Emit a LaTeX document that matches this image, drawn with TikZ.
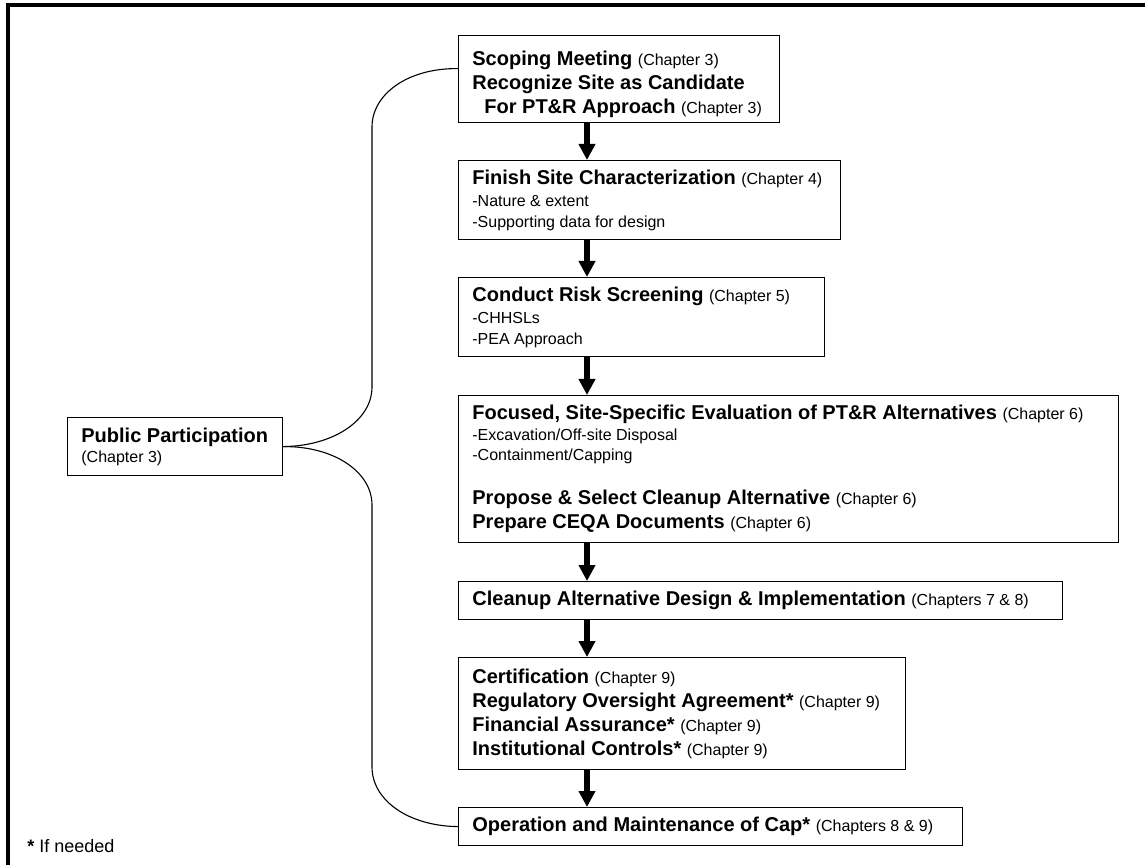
\documentclass[tikz,border=0pt]{standalone}
\usepackage{fontspec}
\setmainfont{Liberation Sans}
\usetikzlibrary{arrows.meta}

\newcommand{\chp}[1]{{\fontsize{8}{12}\selectfont\mdseries(#1)}}
\newcommand{\itm}[1]{{\fontsize{8}{12}\selectfont\mdseries#1}}

\tikzset{
  stage/.style 2 args={draw,line width=0.6pt,anchor=north west,minimum width=#1,minimum height=#2,inner sep=0pt},
  stagetext/.style={anchor=west,align=left,inner sep=0pt,font=\fontsize{10}{12}\selectfont\bfseries},
  flow/.style={line width=3pt,-{Triangle[width=8pt,length=8pt]}},
  link/.style={line width=0.55pt},
}

\begin{document}
\begin{tikzpicture}[x=0.5pt,y=-0.5pt]
                                    \useasboundingbox (0,0) rectangle (1145,865);
                                    \coordinate (spine) at (587,0);
% frame
                                    \draw[line width=1.6pt] (8,865) -- (8,5) -- (1145,5);

% stages
                                    \node[stage={160.5pt}{43.5pt}] (scope) at (458,35) {};
                                    \node[stagetext] (scopetxt) at ([xshift=7pt,yshift=-2.5pt]scope.west)
                                      {Scoping Meeting \chp{Chapter 3}\\ Recognize Site as Candidate\\ \hspace*{6pt}For PT\&R Approach \chp{Chapter 3}};
                                    \node[stage={191pt}{39.5pt}] (finish) at (458,160) {};
                                    \node[stagetext] (finishtxt) at ([xshift=7pt]finish.west)
                                      {Finish Site Characterization \chp{Chapter 4}\\[-1pt] \itm{-Nature \& extent}\\[-1.5pt] \itm{-Supporting data for design}};
                                    \node[stage={183pt}{39.5pt}] (screen) at (458,277) {};
                                    \node[stagetext] (screentxt) at ([xshift=7pt]screen.west)
                                      {Conduct Risk Screening \chp{Chapter 5}\\[-1pt] \itm{-CHHSLs}\\[-1.5pt] \itm{-PEA Approach}};
                                    \node[stage={330pt}{73.5pt}] (focus) at (458,395) {};
                                    \node[stagetext] (focustxt) at ([xshift=7pt]focus.west)
                                      {Focused, Site-Specific Evaluation of PT\&R Alternatives \chp{Chapter 6}\\[-1.5pt] \itm{-Excavation/Off-site Disposal}\\[-2pt] \itm{-Containment/Capping}\\[10pt]
                                       Propose \& Select Cleanup Alternative \chp{Chapter 6}\\ Prepare CEQA Documents \chp{Chapter 6}};
                                    \node[stage={302pt}{19pt}] (design) at (458,581) {};
                                    \node[stagetext] (designtxt) at ([xshift=7pt]design.west)
                                      {Cleanup Alternative Design \& Implementation \chp{Chapters 7 \& 8}};
                                    \node[stage={223.5pt}{56pt}] (cert) at (458,657) {};
                                    \node[stagetext] (certtxt) at ([xshift=7pt]cert.west)
                                      {Certification \chp{Chapter 9}\\ Regulatory Oversight Agreement* \chp{Chapter 9}\\ Financial Assurance* \chp{Chapter 9}\\ Institutional Controls* \chp{Chapter 9}};
                                    \node[stage={252pt}{19pt}] (oandm) at (458,807) {};
                                    \node[stagetext] (oandmtxt) at ([xshift=7pt]oandm.west)
                                      {Operation and Maintenance of Cap* \chp{Chapters 8 \& 9}};
                                    \node[stage={107.5pt}{29pt}] (pp) at (67,417) {};
                                    \node[stagetext] (pptxt) at ([xshift=7pt]pp.west)
                                      {Public Participation\\[-2pt] \chp{Chapter 3}};

% arrows
                                    \foreach \a/\b in {scope/finish,finish/screen,screen/focus,focus/design,design/cert,cert/oandm}
                                      \draw[flow] (\a.south -| spine) -- (\b.north -| spine);

% participation links
                                    \draw[link] (pp.east) .. controls (334,446) and (372,420) .. (372,387) -- (372,127)
                                      .. controls (372,94) and (408,68) .. ([yshift=5.25pt]scope.west);
                                    \draw[link] (pp.east) .. controls (334,446) and (372,472) .. (372,505) -- (372,767)
                                      .. controls (372,800) and (408,826) .. (oandm.west);

% note
                                    \node[anchor=base west,inner sep=0pt,font=\fontsize{9}{11}\selectfont] (note) at (27,852) {\textbf{*} If needed};

                                \end{tikzpicture}
\end{document}
